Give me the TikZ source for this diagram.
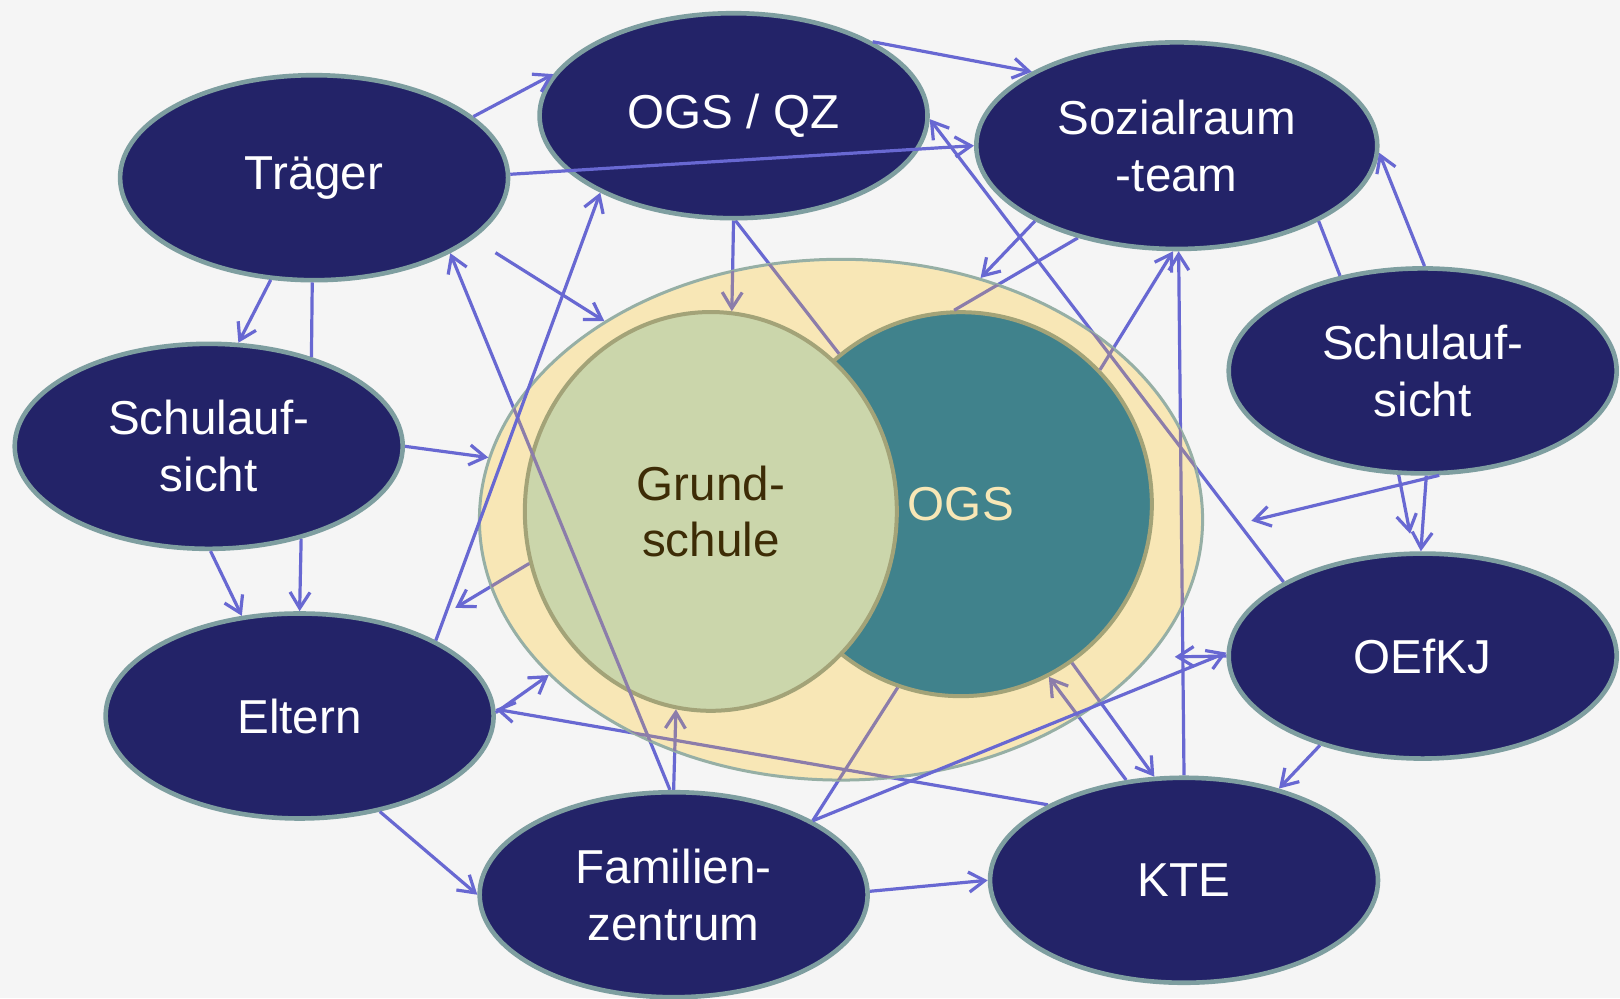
\documentclass[tikz,border=0pt]{standalone}
\usepackage{fontspec}
\setmainfont{Liberation Sans}
\usepackage{xcolor}
\usepackage{tikz}
\usetikzlibrary{positioning}
\usetikzlibrary{shapes,arrows.meta}

\definecolor{paper}{RGB}{245,245,245}
\definecolor{navy}{RGB}{35,35,104}
\definecolor{rim}{RGB}{126,158,160}
\definecolor{linkblue}{RGB}{104,104,210}
\definecolor{linkmuted}{RGB}{140,125,170}
\definecolor{sand}{RGB}{248,231,182}
\definecolor{hubrim}{RGB}{150,175,165}
\definecolor{sage}{RGB}{203,214,171}
\definecolor{olive}{RGB}{163,163,120}
\definecolor{ogsteal}{RGB}{64,130,140}
\definecolor{soil}{RGB}{61,44,6}

\pgfdeclarelayer{background}
\pgfdeclarelayer{behind}
\pgfsetlayers{background,behind,main}

% links that run underneath the school circles
\newcommand{\hublinks}{%
  \draw[->] (fam.92) -- (trg.-29);
  \draw[->] (fam.90) -- (grund.-100);
  \draw[->, shorten >=23pt] (grund.-164) -- (elt.36);
  \draw[->] (kte.151) -- (elt.2);
  \draw (fam.28) -- (ogs.-109);
  \draw[->] (qz.-90) -- (grund.84);
  \draw (qz.-89) -- (ogs.129);
  \draw (soz.-137) -- (ogs.92);
  \draw[->] (ogs.44) -- (soz.-92);
  \draw[->] (kte.90) -- (soz.-89);
  \draw[->] (oef.152) -- (qz.-1);
  \draw[->] (ogs.-55) -- (kte.106);
  \draw[->] (kte.120) -- (ogs.-63);
}

\begin{document}
\begin{tikzpicture}[x=0.5166pt,y=-0.5166pt,>={Straight Barb[length=8pt,width=10pt]},
  org/.style={ellipse,fill=navy,draw=rim,line width=2.3pt,text=white,align=center,inner sep=0pt,
    minimum width=194pt,minimum height=102.5pt,font=\fontsize{23.8}{28.4}\selectfont},
  hub/.style={ellipse,fill=sand,draw=hubrim,line width=1.5pt,minimum width=361.6pt,minimum height=260.4pt},
  school/.style={ellipse,draw=olive,line width=2pt,align=center,inner sep=0pt,font=\fontsize{23.8}{28.4}\selectfont},
  link/.style={draw=linkblue,line width=1.6pt}]
\useasboundingbox (0,0) rectangle (1568,966);
\begin{pgfonlayer}{background}
\fill[paper] (0,0) rectangle (1568,966);
\end{pgfonlayer}

\node[org] at (304,172) (trg) {Träger};
\node[org] at (710,112) (qz) {OGS / QZ};
\node[org,minimum width=200.5pt,minimum height=103.3pt] at (1139,141) (soz) {Sozialraum\\-team};
\node[org] at (202,432) (sl) {Schulauf-\\sicht};
\node[org] at (1377,359) (sr) {Schulauf-\\sicht};
\node[org] at (290,693) (elt) {Eltern};
\node[org] at (652,866) (fam) {Familien-\\zentrum};
\node[org] at (1146,852) (kte) {KTE};
\node[org] at (1377,635) (oef) {OEfKJ};

\node[hub] at (814,503) (hub) {};
\node[school,fill=ogsteal,text=sand,minimum width=191pt,minimum height=192pt] at (930,488) (ogs) {OGS};
\node[school,fill=sage,text=soil,minimum width=186pt,minimum height=199.4pt] at (688,495) (grund) {Grund-\\schule};

\begin{pgfonlayer}{behind}
\begin{scope}[link]
\hublinks
\end{scope}
\end{pgfonlayer}
\begin{scope}
\clip (hub.center) ellipse [x radius=180.8pt, y radius=130.2pt];
\begin{scope}[link,draw=linkmuted]
\hublinks
\end{scope}
\end{scope}

\begin{scope}[link]
\draw[->] (trg.21) -- (qz.167);
\draw[->] (trg.1) -- (soz.180);
\draw[->] (qz.28) -- (soz.153);
\draw[->] (trg.-113) -- (sl.74);
\draw (trg.-91) -- (sl.41);
\draw[->, shorten <=13pt] (trg.-21) -- (hub.140);
\draw[->] (elt.29) -- (qz.-150);
\draw[->] (sl.0) -- (hub.170);
\draw[->] (sl.-89) -- (elt.120);
\draw[->] (sl.-45) -- (elt.90);
\draw[->] (elt.1) -- (hub.-152);
\draw[->] (elt.-50) -- (fam.180);
\draw[->] (fam.1) -- (kte.180);
\draw[->] (fam.28) -- (oef.179);
\draw[->] (soz.-152) -- (hub.60);
\draw (soz.-28) -- (sr.131);
\draw[->] (sr.89) -- (soz.-2);
\draw[->, shorten >=24.5pt] (sr.-81) -- (hub.-2);
\draw[->, shorten >=9pt] (sr.-103) -- (oef.95);
\draw[->] (sr.-88) -- (oef.91);
\draw[->] (oef.-139) -- (kte.44);
\draw[->, shorten >=12.4pt] (oef.180) -- (hub.-24);
\end{scope}
\end{tikzpicture}
\end{document}
